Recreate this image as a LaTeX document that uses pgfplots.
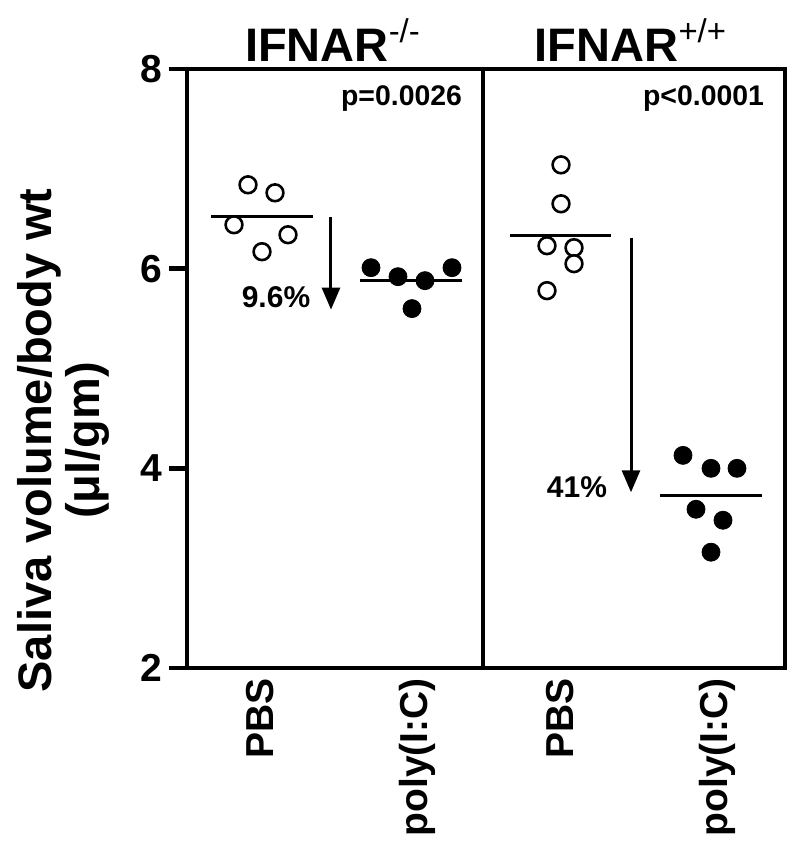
\documentclass[border=0pt]{standalone}
\usepackage{fontspec}
\setmainfont{Liberation Sans}
\usepackage{pgfplots}
\pgfplotsset{compat=1.18}
\usetikzlibrary{arrows.meta}
\begin{document}
\begin{tikzpicture}
\path[use as bounding box] (-93.5pt,-94.5pt) rectangle (306.5pt,334pt);
\begin{axis}[
  at={(0,0)}, anchor=south west,
  width=299pt, height=299.5pt, scale only axis,
  xmin=187, xmax=785, ymin=2, ymax=8,
  clip=false,
  axis line style={line width=2.4pt},
  ytick={2,4,6,8},
  xtick={260,417,560,717},
  xticklabels={PBS,poly(I:C),PBS,poly(I:C)},
  x tick label style={yshift=7.5pt, rotate=90, anchor=east, font=\fontsize{19.5}{19.5}\selectfont\bfseries},
  y tick label style={font=\fontsize{19.5}{19.5}\selectfont\bfseries},
  /pgf/number format/assume math mode=true,
  major tick length=9pt,
  tick align=outside,
  ytick style={line width=2.4pt, black},
  xtick style={draw=none},
  ytick pos=left,
  xtick pos=bottom,
  ylabel={Saliva volume/body wt\\(μl/gm)},
  ylabel style={at={(axis description cs:-0.206,0.38)}, anchor=center, align=center, font=\fontsize{23.5}{24}\selectfont\bfseries},
]
% divider
\addplot[black, line width=2.4pt] coordinates {(483,2) (483,8)};
% IFNAR-/- PBS (open)
\addplot[only marks, mark=*, mark size=4.2pt, mark options={fill=white, draw=black, line width=1.3pt}] coordinates {
(248,6.84) (275,6.76) (234,6.44) (288,6.34) (262,6.17)};
% IFNAR-/- poly(I:C) (filled)
\addplot[only marks, mark=*, mark size=4.5pt, mark options={fill=black, draw=black}] coordinates {
(371,6.01) (398,5.92) (425,5.88) (452,6.01) (412,5.60)};
% IFNAR+/+ PBS (open)
\addplot[only marks, mark=*, mark size=4.2pt, mark options={fill=white, draw=black, line width=1.3pt}] coordinates {
(561,7.04) (561,6.65) (547,6.23) (574,6.21) (574,6.05) (547,5.78)};
% IFNAR+/+ poly(I:C) (filled)
\addplot[only marks, mark=*, mark size=4.5pt, mark options={fill=black, draw=black}] coordinates {
(683,4.13) (711,4.00) (737,4.00) (696,3.59) (723,3.48) (711,3.16)};
% means
\addplot[black, line width=1.5pt] coordinates {(211,6.52) (313,6.52)};
\addplot[black, line width=1.5pt] coordinates {(360,5.88) (462,5.88)};
\addplot[black, line width=1.5pt] coordinates {(510,6.33) (611,6.33)};
\addplot[black, line width=1.5pt] coordinates {(660,3.73) (762,3.73)};
% arrows
\draw[black, line width=1.5pt, -{Triangle[width=9pt,length=11pt]}] (axis cs:331,6.52) -- (axis cs:331,5.59);
\draw[black, line width=1.5pt, -{Triangle[width=9pt,length=11pt]}] (axis cs:631,6.31) -- (axis cs:631,3.76);
% texts
\node[anchor=center, font=\fontsize{15}{15}\selectfont\bfseries] at (axis cs:276,5.71) {9.6\%};
\node[anchor=center, font=\fontsize{15}{15}\selectfont\bfseries] at (axis cs:577,3.81) {41\%};
\node[anchor=base east, font=\fontsize{14.2}{14.2}\selectfont\bfseries] at (axis cs:469,7.63) {p=0.0026};
\node[anchor=base east, font=\fontsize{14.2}{14.2}\selectfont\bfseries] at (axis cs:771,7.63) {p<0.0001};
\node[anchor=base, font=\fontsize{23.5}{23.5}\selectfont\bfseries] at (axis cs:333,8.08) {IFNAR\textsuperscript{\mdseries -/-}};
\node[anchor=base, font=\fontsize{23.5}{23.5}\selectfont\bfseries] at (axis cs:631,8.08) {IFNAR\textsuperscript{\mdseries +/+}};
\end{axis}
\end{tikzpicture}
\end{document}
